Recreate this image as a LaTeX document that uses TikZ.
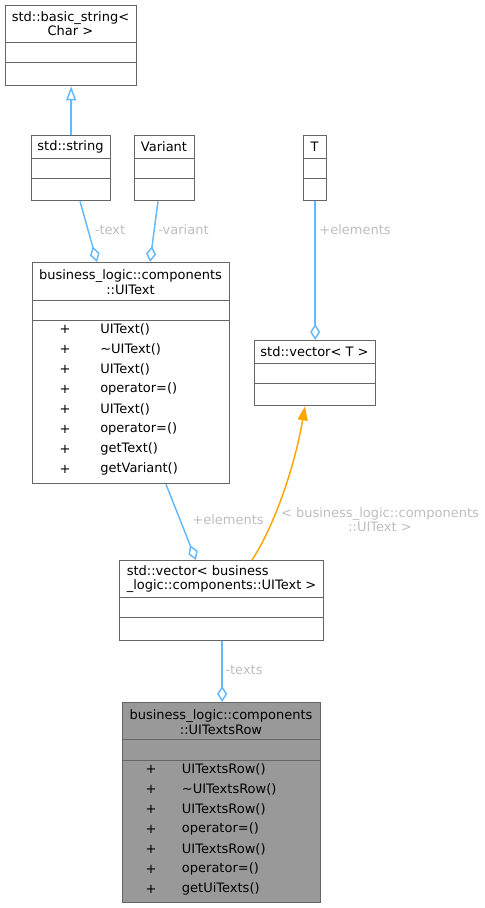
\documentclass[tikz,border=0pt]{standalone}
\usepackage{fontspec}
\setmainfont{DejaVu Sans}
\usetikzlibrary{arrows.meta,calc}
\definecolor{edgeblue}{HTML}{63B8FF}
\definecolor{edgeorange}{HTML}{FFA500}
\definecolor{boxgray}{HTML}{666666}
\definecolor{labelgray}{HTML}{BEBEBE}
\definecolor{rowfill}{HTML}{999999}
\newcommand{\hdiv}[2]{\draw[divider] ($(#1.north west)+(0,#2)$) -- ($(#1.north east)+(0,#2)$);}
\begin{document}
\begin{tikzpicture}[x=0.75pt,y=-0.75pt,
 every node/.style={font=\fontsize{9.75}{10.9}\selectfont},
 classbox/.style={draw=boxgray, line width=1pt, fill=white, anchor=north west, inner sep=0pt},
 txt/.style={inner sep=0pt, text=black},
 lbl/.style={inner sep=0pt, text=labelgray, align=center},
 divider/.style={draw=boxgray, line width=1pt},
 agg/.style={draw=edgeblue, line width=1.1pt, -{Diamond[open,width=7.5pt,length=12pt]}},
 inh/.style={draw=edgeblue, line width=1.1pt, -{Triangle[open,width=7.5pt,length=10.5pt]}},
 tmpl/.style={draw=edgeorange, line width=1.1pt, -{Triangle[width=7.5pt,length=10.5pt,fill=edgeorange]}},
]
\useasboundingbox (0,0) rectangle (485,908);

% boxes
\node[classbox, minimum width=98.25pt, minimum height=60pt] (bs) at (5,5) {};
\hdiv{bs}{37.7}\hdiv{bs}{57.7}
\node[txt, align=center] (bst) at (70.5,23.5) {std::basic\_string<\\Char >};

\node[classbox, minimum width=59.25pt, minimum height=48.75pt] (str) at (31,135) {};
\hdiv{str}{23.5}\hdiv{str}{43.5}
\node[txt] (strt) at (70.5,146.5) {std::string};

\node[classbox, minimum width=45pt, minimum height=48.75pt] (var) at (134,135) {};
\hdiv{var}{23.5}\hdiv{var}{43.5}
\node[txt] (vart) at (164,146.5) {Variant};

\node[classbox, minimum width=17.25pt, minimum height=48.75pt] (T) at (303,135) {};
\hdiv{T}{23.5}\hdiv{T}{43.5}
\node[txt] (Tt) at (314.5,146.5) {T};

\node[classbox, minimum width=90.75pt, minimum height=48.75pt] (vT) at (254,340) {};
\hdiv{vT}{23.5}\hdiv{vT}{43.5}
\node[txt] (vTt) at (314.5,351.5) {std::vector< T >};

\node[classbox, minimum width=147.75pt, minimum height=165.75pt] (uit) at (32,262) {};
\hdiv{uit}{38.5}\hdiv{uit}{58.5}
\node[txt, align=center] (uitt) at (130.5,282) {business\_logic::components\\::UIText};
\foreach \m [count=\i from 0] in {UIText(),\textasciitilde UIText(),UIText(),operator=(),UIText(),operator=(),getText(),getVariant()}{
  \node[txt] (uitp\i) at (65,329+20*\i) {+};
  \node[txt, anchor=west] (uitm\i) at (100,329+20*\i) {\m};
}

\node[classbox, minimum width=153pt, minimum height=60pt] (vU) at (119,560) {};
\hdiv{vU}{37.3}\hdiv{vU}{57.3}
\node[txt, align=left, anchor=west] (vUt) at (126.5,579) {std::vector< business\\\_logic::components::UIText >};

\node[classbox, fill=rowfill, minimum width=148.5pt, minimum height=150pt] (row) at (122,702) {};
\hdiv{row}{37.5}\hdiv{row}{58.5}
\node[txt, align=center] (rowt) at (221,722) {business\_logic::components\\::UITextsRow};
\foreach \m [count=\i from 0] in {UITextsRow(),\textasciitilde UITextsRow(),UITextsRow(),operator=(),UITextsRow(),operator=(),getUiTexts()}{
  \node[txt] (rowp\i) at (151,769.3+20*\i) {+};
  \node[txt, anchor=west] (rowm\i) at (181.7,769.3+20*\i) {\m};
}

% edges
\draw[inh] (str.north) -- (bs.south);
\draw[agg] ($(str.south west)+(49,0)$) -- ($(uit.north west)+(65,0)$);
\node[lbl] (l1) at (110,230) {-text};
\draw[agg] ($(var.south west)+(24,0)$) -- ($(uit.north west)+(118,0)$);
\node[lbl] (l2) at (183.5,230) {-variant};
\draw[agg] (T.south) -- (vT.north);
\node[lbl] (l3) at (355,230) {+elements};
\draw[agg] ($(uit.south west)+(134,0)$) -- ($(vU.north west)+(77,0)$);
\node[lbl] (l4) at (228,520) {+elements};
\draw[tmpl] ($(vU.north west)+(133,0)$) .. controls (275,525) and (295,465) .. ($(vT.south west)+(51,0)$);
\node[lbl] (l5) at (380,519.5) {< business\_logic::components\\::UIText >};
\draw[agg] ($(vU.south)+(0.5,0)$) -- ($(row.north)+(0.5,0)$);
\node[lbl] (l6) at (244,670) {-texts};
\end{tikzpicture}
\end{document}
